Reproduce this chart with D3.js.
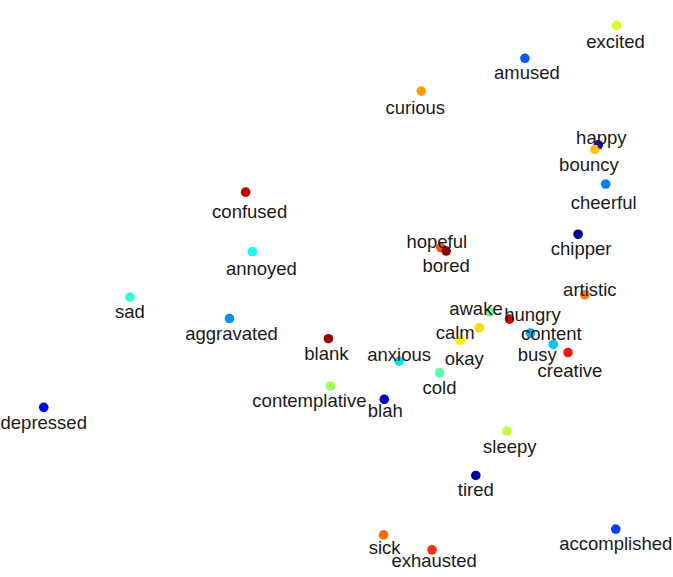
<!DOCTYPE html>
<html>
<head>
<meta charset="utf-8">
<script src="https://cdn.jsdelivr.net/npm/d3@7"></script>
<style>
  html, body { margin: 0; padding: 0; background: #fff; }
  #chart text { font-family: "Liberation Sans", Arial, Helvetica, sans-serif; font-size: 18.5px; fill: #1a1a1a; }
</style>
</head>
<body>
<div id="chart"></div>
<script>
// Carte des humeurs — nuage de points étiquetés, sans axes

const largeur = 673, hauteur = 577;

// Données (unités arbitraires 0–10)
const humeurs = ["excited", "amused", "curious", "happy", "bouncy", "cheerful", "confused", "chipper",
  "hopeful", "bored", "annoyed", "artistic", "sad", "awake", "aggravated", "hungry", "calm", "content",
  "blank", "okay", "busy", "creative", "anxious", "cold", "contemplative", "blah", "depressed", "sleepy",
  "tired", "accomplished", "sick", "exhausted"];
const valeursX = [9.16, 7.80, 6.26, 8.89, 8.84, 9.00, 3.65, 8.59,
  6.55, 6.63, 3.75, 8.69, 1.93, 7.28, 3.41, 7.57, 7.12, 7.88,
  4.88, 6.84, 8.22, 8.44, 5.93, 6.53, 4.91, 5.71, 0.65, 7.53,
  7.07, 9.15, 5.70, 6.42];
const valeursY = [9.56, 8.99, 8.42, 7.49, 7.41, 6.81, 6.67, 5.94,
  5.71, 5.65, 5.64, 4.89, 4.85, 4.59, 4.48, 4.47, 4.32, 4.23,
  4.13, 4.10, 4.03, 3.89, 3.74, 3.54, 3.31, 3.08, 2.94, 2.53,
  1.76, 0.83, 0.73, 0.47];
// valeur de couleur (colormap "jet", 0–1)
const tons = [0.59, 0.215, 0.72, 0.095, 0.685, 0.25, 0.9375, 0.02,
  0.79, 0.99, 0.39, 0.75, 0.425, 0.48, 0.265, 0.9125, 0.66, 0.29,
  0.97, 0.6375, 0.32, 0.86, 0.345, 0.46, 0.535, 0.075, 0.11, 0.565,
  0.04, 0.1875, 0.77, 0.825];

// Placement des étiquettes (décalage en px : centre du texte, ligne de base)
const decalageDefaut = [0, 21];
const decalages = {
  excited: [-1, 23], amused: [2, 21], curious: [-6, 23], happy: [3, -1], bouncy: [-6, 22],
  cheerful: [-2, 25], confused: [4, 26], chipper: [3, 21], hopeful: [-4, 0], annoyed: [9, 23],
  artistic: [5, 1], awake: [-14, 3], aggravated: [2, 21], hungry: [23, 2], calm: [-24, 11],
  content: [21, 7], blank: [-2, 21], okay: [4, 25], busy: [-16, 17], creative: [2, 24],
  anxious: [0, 0], contemplative: [-21, 21], blah: [1, 18], depressed: [0, 22], sleepy: [3, 22],
  sick: [1, 19], exhausted: [2, 17]
};

const donnees = humeurs.map((nom, i) => ({ nom, x: valeursX[i], y: valeursY[i], ton: tons[i] }));

// Échelles
const x = d3.scaleLinear().domain([0, 10]).range([0, largeur]);
const y = d3.scaleLinear().domain([0, 10]).range([hauteur, 0]);
const jet = d3.scaleLinear()
    .domain([0, 0.125, 0.375, 0.625, 0.875, 1])
    .range(["#000080", "#0000ff", "#00ffff", "#ffff00", "#ff0000", "#800000"])
    .clamp(true);

const svg = d3.select("#chart").append("svg")
    .attr("width", largeur).attr("height", hauteur);

// Points
svg.append("g").selectAll("circle")
    .data(donnees)
  .join("circle")
    .attr("cx", d => x(d.x))
    .attr("cy", d => y(d.y))
    .attr("r", 4.8)
    .attr("fill", d => jet(d.ton));

// Étiquettes
svg.append("g").selectAll("text")
    .data(donnees)
  .join("text")
    .attr("x", d => x(d.x) + (decalages[d.nom] || decalageDefaut)[0])
    .attr("y", d => y(d.y) + (decalages[d.nom] || decalageDefaut)[1])
    .attr("text-anchor", "middle")
    .text(d => d.nom);
</script>
</body>
</html>
